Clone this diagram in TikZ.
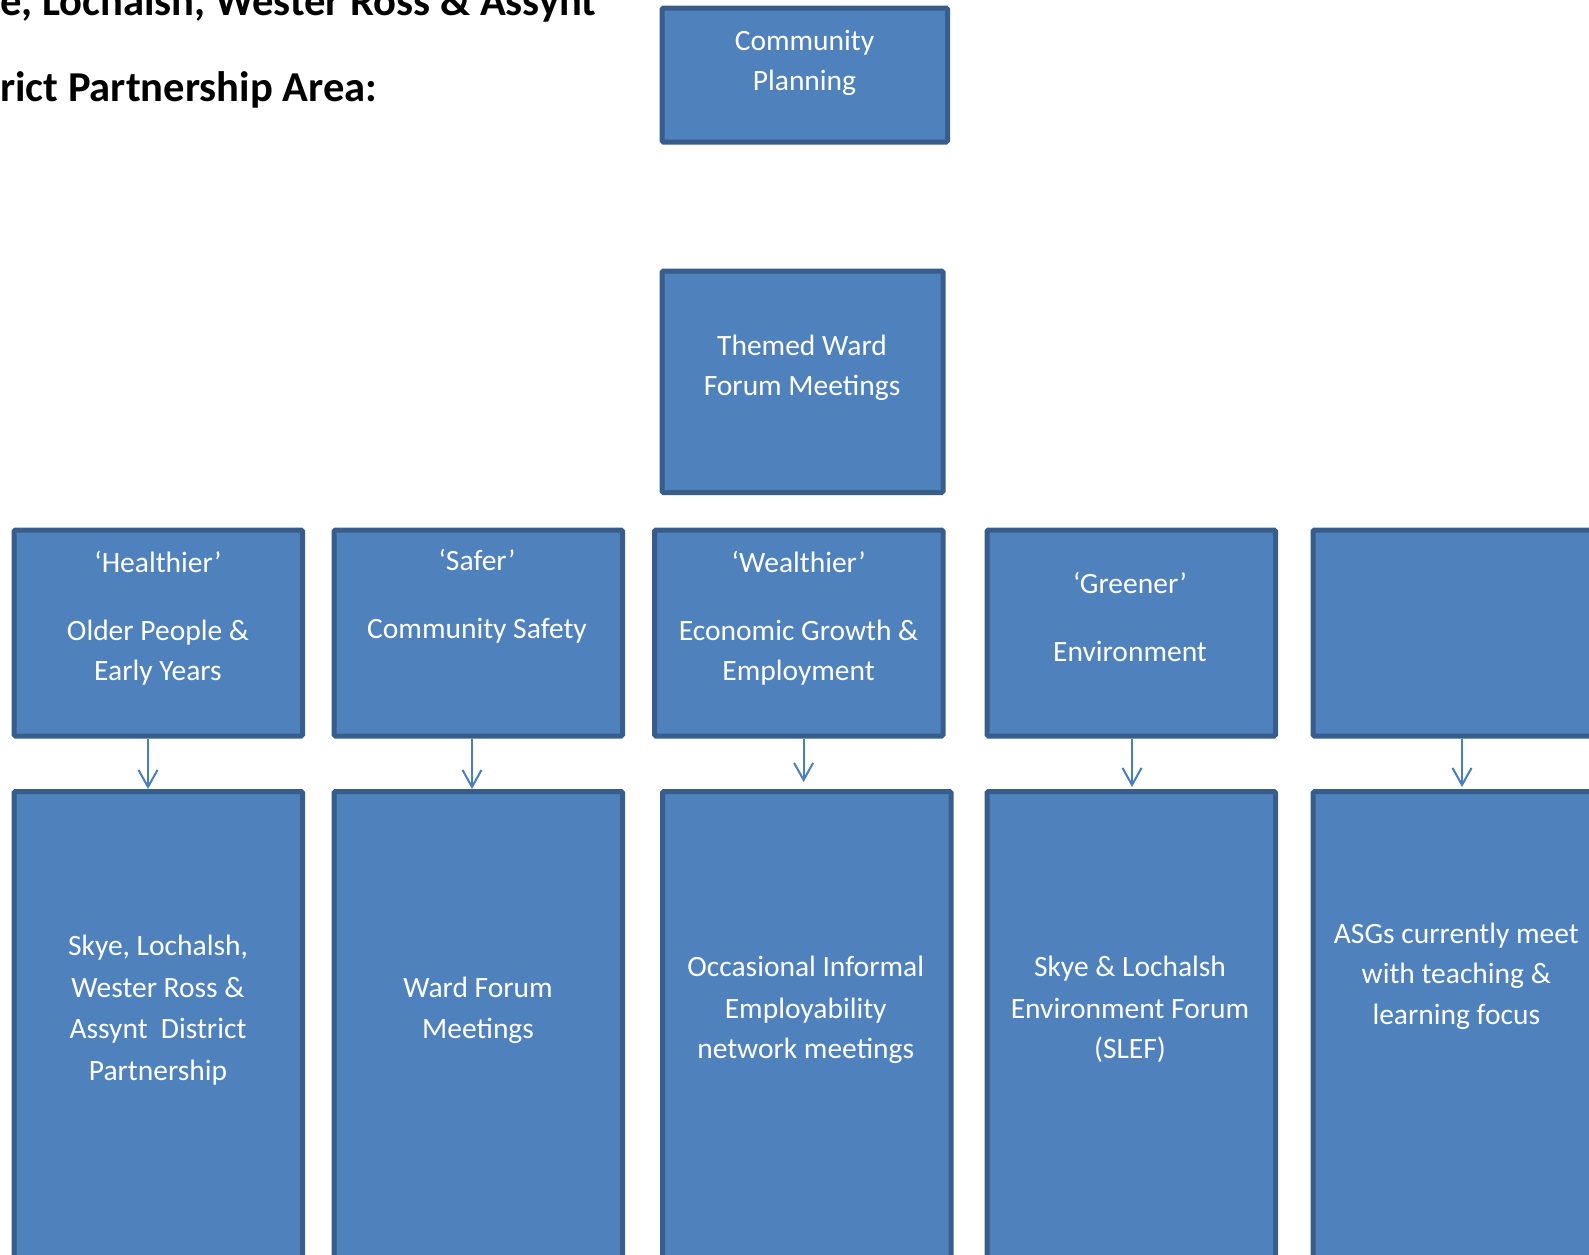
\documentclass[tikz,border=0pt]{standalone}
\usepackage{fontspec}
\setmainfont{Carlito}
\usetikzlibrary{arrows.meta}
\definecolor{boxfill}{HTML}{4F81BD}
\definecolor{boxline}{HTML}{385D8A}
\definecolor{arrc}{HTML}{4A7EBB}
\begin{document}
\begin{tikzpicture}[x=1pt,y=-1pt,
 bx/.style={draw=boxline,fill=boxfill,line width=5pt,rounded corners=1.5pt,inner sep=0pt,anchor=north west},
 tx/.style={text=white,anchor=base,inner sep=0pt,font=\fontsize{29.5}{35}\selectfont},
 ttl/.style={text=black,anchor=base west,inner sep=0pt,font=\fontsize{42.6}{50}\selectfont\bfseries},
 arr/.style={draw=arrc,line width=2pt,-{Straight Barb[length=17pt,width=19pt]}}]
\useasboundingbox (0,0) rectangle (1589,1254);
\clip (0,0) rectangle (1589,1254);
% title
\node[ttl] (title1) at (0,15.5) {e, Lochalsh, Wester Ross \& Assynt};
\node[ttl] (title2) at (0,101.5) {rict Partnership Area:};
% top boxes
\node[bx,minimum width=285.5pt,minimum height=134pt] (cp) at (659.5,5.5) {};
\node[bx,minimum width=281pt,minimum height=221.5pt] (tw) at (659.5,268.5) {};
% row 2
\node[bx,minimum width=288.5pt,minimum height=206pt] (r2a) at (11.5,527.5) {};
\node[bx,minimum width=288.5pt,minimum height=206pt] (r2b) at (331.5,527.5) {};
\node[bx,minimum width=288.5pt,minimum height=206pt] (r2c) at (652,527.5) {};
\node[bx,minimum width=288.5pt,minimum height=206pt] (r2d) at (984.5,527.5) {};
\node[bx,minimum width=300pt,minimum height=206pt] (r2e) at (1310.5,527.5) {};
% row 3
\node[bx,minimum width=288.5pt,minimum height=500pt] (r3a) at (11.5,789) {};
\node[bx,minimum width=288.5pt,minimum height=500pt] (r3b) at (331.5,789) {};
\node[bx,minimum width=288.5pt,minimum height=500pt] (r3c) at (660,789) {};
\node[bx,minimum width=288.5pt,minimum height=500pt] (r3d) at (984.5,789) {};
\node[bx,minimum width=300pt,minimum height=500pt] (r3e) at (1310.5,789) {};
% arrows
\coordinate (xa) at (148,0);
\coordinate (xb) at (472,0);
\coordinate (xc) at (803.6,0);
\coordinate (xd) at (1132,0);
\coordinate (xe) at (1462,0);
\draw[arr] (r2a.south -| xa) -- (r3a.north -| xa);
\draw[arr] (r2b.south -| xb) -- (r3b.north -| xb);
\draw[arr] (r2c.south -| xc) -- ([yshift=7pt]r3c.north -| xc);
\draw[arr] (r2d.south -| xd) -- ([yshift=2pt]r3d.north -| xd);
\draw[arr] (r2e.south -| xe) -- ([yshift=2pt]r3e.north -| xe);
% texts top
\node[tx] (cp1) at (804.5,50) {Community};
\node[tx] (cp2) at (804.5,90) {Planning};
\node[tx] (tw1) at (802,355) {Themed Ward};
\node[tx] (tw2) at (802,395) {Forum Meetings};
% row 2 texts
\node[tx] (a1) at (158,572.4) {‘Healthier’};
\node[tx] (a2) at (158,640.3) {Older People \&};
\node[tx] (a3) at (158,680.9) {Early Years};
\node[tx] (b1) at (477,570.4) {‘Safer’};
\node[tx] (b2) at (477,638.3) {Community Safety};
\node[tx] (c1) at (798.6,572.4) {‘Wealthier’};
\node[tx] (c2) at (798.6,640.3) {Economic Growth \&};
\node[tx] (c3) at (798.6,680.9) {Employment};
\node[tx] (d1) at (1130,593.7) {‘Greener’};
\node[tx] (d2) at (1130,661.6) {Environment};
% row 3 texts
\node[tx] (ra1) at (158,955.5) {Skye, Lochalsh,};
\node[tx] (ra2) at (158,997) {Wester Ross \&};
\node[tx] (ra3) at (158,1038.6) {Assynt\ \ District};
\node[tx] (ra4) at (158,1080) {Partnership};
\node[tx] (rb1) at (478,997) {Ward Forum};
\node[tx] (rb2) at (478,1038.6) {Meetings};
\node[tx] (rc1) at (805.7,976.8) {Occasional Informal};
\node[tx] (rc2) at (805.7,1018.3) {Employability};
\node[tx] (rc3) at (805.7,1058.9) {network meetings};
\node[tx] (rd1) at (1130,976.8) {Skye \& Lochalsh};
\node[tx] (rd2) at (1130,1018.3) {Environment Forum};
\node[tx] (rd3) at (1130,1058.9) {(SLEF)};
\node[tx] (re1) at (1456.3,943.3) {ASGs currently meet};
\node[tx] (re2) at (1456.3,983.9) {with teaching \&};
\node[tx] (re3) at (1456.3,1024.4) {learning focus};
\end{tikzpicture}
\end{document}
